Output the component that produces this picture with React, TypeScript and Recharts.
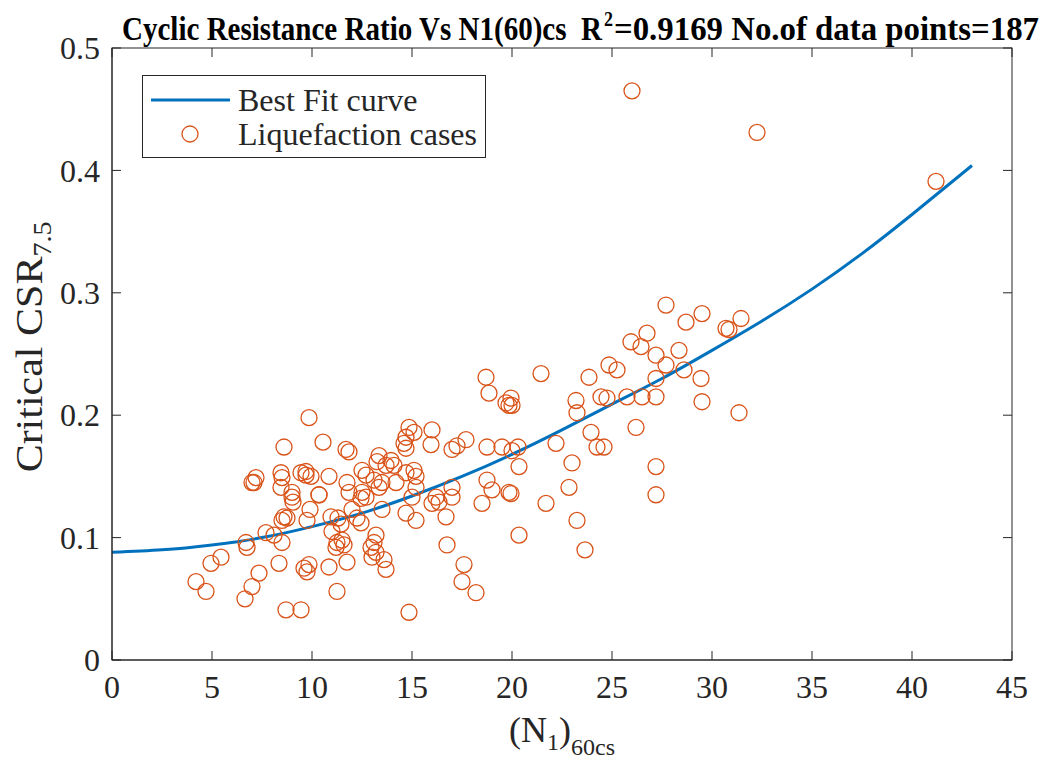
import React from "react";
import { ComposedChart, Line, Scatter, XAxis, YAxis, Legend } from "recharts";

const W = 1047;
const H = 762;
const M = { top: 48, right: 35, bottom: 0, left: 0 };
const X_AXIS_H = 102;
const Y_AXIS_W = 112;
const PLOT_W = W - M.right - Y_AXIS_W;
const PLOT_H = H - M.top - X_AXIS_H;
const INK = "#262626";
const BLUE = "#0072BD";
const ORANGE = "#D95319";
const FONT = "'Liberation Serif', 'Times New Roman', serif";

const xTicks = [0, 5, 10, 15, 20, 25, 30, 35, 40, 45];
const yTicks = [0, 0.1, 0.2, 0.3, 0.4, 0.5];

// best fit curve
const fitN = [0, 2.5, 5, 7.5, 10, 12.5, 15, 17.5, 20, 22.5, 25, 27.5, 30, 32.5, 35, 37.5, 40, 43];
const fitCSR = [0.088, 0.09, 0.094, 0.1, 0.109, 0.12, 0.134, 0.15, 0.168, 0.188, 0.209, 0.23, 0.253, 0.277, 0.303, 0.332, 0.364, 0.404];

// liquefaction cases
const caseN = [
  4.2, 4.7, 4.95, 5.45, 6.65, 7.0, 7.35, 6.7, 6.75, 7.7, 8.1, 8.35, 8.5, 8.7, 9.45, 9.6, 9.75, 9.85,
  7.2, 7.0, 8.45, 8.5, 8.45, 9.45, 9.7, 9.0, 9.05, 8.6, 8.75, 8.5, 9.9, 8.6, 9.85, 10.55, 11.7, 11.85,
  10.35, 9.75, 10.95, 11.3, 11.45, 11.0, 11.5, 11.6, 11.25, 11.2, 10.85, 11.25, 11.75, 11.75, 9.7, 9.95,
  10.85, 11.85, 12.5, 12.7, 12.45, 12.5, 12.7, 13.1, 13.5, 13.35, 14.2, 13.35, 13.25, 13.95, 14.1, 13.7,
  14.85, 15.1, 14.7, 14.6, 14.7, 16.0, 15.95, 17.0, 17.25, 17.7, 15.1, 15.2, 14.7, 12.0, 12.25, 12.45,
  13.5, 14.7, 15.2, 16.7, 15.2, 15.0, 16.2, 16.35, 16.0, 17.0, 17.0, 13.2, 13.1, 12.95, 13.2, 13.0,
  13.6, 13.7, 16.75, 14.85, 17.5, 17.6, 18.2, 19.85, 19.7, 20.35, 18.75, 19.0, 18.5, 19.85, 19.95, 20.35,
  18.75, 19.5, 20.3, 20.0, 27.7, 28.7, 29.5, 30.7, 25.95, 26.45, 26.75, 27.2, 27.7, 28.35, 28.6, 24.85,
  25.25, 23.85, 27.2, 29.45, 21.45, 18.7, 18.85, 19.95, 20.0, 23.2, 23.25, 24.45, 24.75, 25.75, 26.5, 27.2,
  29.5, 26.2, 23.95, 24.25, 24.6, 22.2, 23.0, 27.2, 22.85, 21.7, 27.2, 23.25, 23.65, 32.25, 41.2, 31.45,
  30.85, 31.35, 26.0, 10.35, 9.0, 7.1,
];
const caseCSR = [
  0.064, 0.056, 0.079, 0.084, 0.05, 0.06, 0.071, 0.096, 0.092, 0.104, 0.102, 0.079, 0.096, 0.041, 0.041, 0.075, 0.072, 0.078,
  0.149, 0.145, 0.153, 0.149, 0.141, 0.153, 0.151, 0.133, 0.129, 0.117, 0.116, 0.114, 0.123, 0.174, 0.198, 0.178, 0.172, 0.17,
  0.135, 0.114, 0.117, 0.116, 0.111, 0.105, 0.098, 0.094, 0.096, 0.092, 0.076, 0.056, 0.08, 0.145, 0.154, 0.15,
  0.15, 0.137, 0.137, 0.133, 0.132, 0.155, 0.151, 0.147, 0.145, 0.141, 0.145, 0.167, 0.162, 0.163, 0.159, 0.159,
  0.19, 0.186, 0.182, 0.177, 0.173, 0.188, 0.176, 0.172, 0.175, 0.18, 0.155, 0.15, 0.153, 0.123, 0.116, 0.112,
  0.123, 0.12, 0.114, 0.117, 0.141, 0.133, 0.133, 0.129, 0.128, 0.141, 0.133, 0.102, 0.096, 0.092, 0.088, 0.084,
  0.082, 0.074, 0.094, 0.039, 0.064, 0.078, 0.055, 0.208, 0.21, 0.158, 0.147, 0.139, 0.128, 0.137, 0.136, 0.102,
  0.174, 0.174, 0.174, 0.171, 0.29, 0.276, 0.283, 0.271, 0.26, 0.256, 0.267, 0.249, 0.241, 0.253, 0.237, 0.241,
  0.237, 0.231, 0.23, 0.23, 0.234, 0.231, 0.218, 0.214, 0.208, 0.212, 0.202, 0.215, 0.214, 0.215, 0.215, 0.215,
  0.211, 0.19, 0.186, 0.174, 0.174, 0.177, 0.161, 0.158, 0.141, 0.128, 0.135, 0.114, 0.09, 0.431, 0.391, 0.279,
  0.27, 0.202, 0.465, 0.135, 0.137, 0.145,
];

const fitData = fitN.map((x, i) => ({ x, y: fitCSR[i] }));
const caseData = caseN.map((x, i) => ({ x, y: caseCSR[i] }));

const TICK = 9;
const txt = { fontFamily: FONT, fill: INK } as const;

// ticks point inward, MATLAB style, mirrored on top / right edges of the box
const BottomTick = (p: any) => (
  <g>
    <line x1={p.x} y1={p.y} x2={p.x} y2={p.y - TICK} stroke={INK} />
    <line x1={p.x} y1={p.y - PLOT_H} x2={p.x} y2={p.y - PLOT_H + TICK} stroke={INK} />
    <text x={p.x} y={p.y + 38} textAnchor="middle" fontSize={32} {...txt}>
      {p.payload.value}
    </text>
  </g>
);
const LeftTick = (p: any) => (
  <g>
    <line x1={p.x} y1={p.y} x2={p.x + TICK} y2={p.y} stroke={INK} />
    <line x1={p.x + PLOT_W} y1={p.y} x2={p.x + PLOT_W - TICK} y2={p.y} stroke={INK} />
    <text x={p.x - 12} y={p.y} dy="0.35em" textAnchor="end" fontSize={32} {...txt}>
      {p.payload.value}
    </text>
  </g>
);

const Ring = (p: any) => (
  <circle cx={p.cx} cy={p.cy} r={8} fill="none" stroke={ORANGE} strokeWidth={1.3} />
);

const XLabel = () => (
  <text x={562} y={742} textAnchor="middle" fontSize={36} {...txt}>
    (N<tspan dy={8} fontSize={24}>1</tspan>
    <tspan dy={-8}>)</tspan>
    <tspan dy={13} fontSize={24}>60cs</tspan>
  </text>
);

const titleStyle = { fontFamily: FONT, fill: "#000", fontWeight: "bold" as const, lengthAdjust: "spacingAndGlyphs" };

// y label + box frame + title, hung off the y axis label slot
const YLabelAndFrame = (props: any) => {
  const vb = props.viewBox || { x: 0, y: M.top, width: Y_AXIS_W, height: PLOT_H };
  const left = vb.x + vb.width;
  return (
    <g>
      <rect x={left} y={vb.y} width={PLOT_W} height={vb.height} fill="none" stroke={INK} strokeWidth={1} />
      <text
        transform="translate(42,347) rotate(-90) scale(1,0.9)"
        textAnchor="middle"
        fontSize={42}
        {...txt}
      >
        Critical CSR<tspan dy={10} fontSize={28}>7.5</tspan>
      </text>
      <text transform="translate(122,40) scale(1,1.17)" fontSize={29} textLength={480} {...titleStyle}>
        {"Cyclic Resistance Ratio Vs N1(60)cs\u00a0\u00a0R"}
      </text>
      <text transform="translate(604,26) scale(1,1.1)" fontSize={19} textLength={9} {...titleStyle}>
        2
      </text>
      <text transform="translate(614,40) scale(1,1.06)" fontSize={32} textLength={425} {...titleStyle}>
        =0.9169 No.of data points=187
      </text>
    </g>
  );
};

const LegendBox = () => (
  <svg width={345} height={84} style={{ display: "block" }}>
    <rect x={0.5} y={0.5} width={343} height={82} fill="#fff" stroke={INK} strokeWidth={1} />
    <line x1={9} y1={25} x2={88} y2={25} stroke={BLUE} strokeWidth={3} />
    <circle cx={48} cy={59} r={8} fill="none" stroke={ORANGE} strokeWidth={1.3} />
    <text x={96} y={36} fontSize={32} {...txt}>Best Fit curve</text>
    <text x={96} y={70} fontSize={32} {...txt}>Liquefaction cases</text>
  </svg>
);

export default function App() {
  return (
    <div style={{ position: "absolute", left: 0, top: 0, width: W, height: H, background: "#fff" }}>
      <ComposedChart width={W} height={H} margin={M}>
        <XAxis
          dataKey="x"
          type="number"
          domain={[0, 45]}
          ticks={xTicks}
          height={X_AXIS_H}
          tickSize={0}
          tickMargin={0}
          tickLine={false}
          axisLine={{ stroke: INK }}
          tick={BottomTick}
          interval={0}
          label={{ content: XLabel }}
          allowDataOverflow
        />
        <YAxis
          dataKey="y"
          type="number"
          domain={[0, 0.5]}
          ticks={yTicks}
          width={Y_AXIS_W}
          tickSize={0}
          tickMargin={0}
          tickLine={false}
          axisLine={{ stroke: INK }}
          tick={LeftTick}
          interval={0}
          label={{ content: YLabelAndFrame }}
          allowDataOverflow
        />
        <Legend
          layout="horizontal"
          verticalAlign="middle"
          align="center"
          content={LegendBox}
          wrapperStyle={{ position: "absolute", left: 142, top: 75, width: 345, height: 84 }}
        />
        <Scatter data={caseData} dataKey="y" shape={Ring} isAnimationActive={false} />
        <Line
          data={fitData}
          dataKey="y"
          type="natural"
          stroke={BLUE}
          strokeWidth={3}
          dot={false}
          activeDot={false}
          isAnimationActive={false}
        />
      </ComposedChart>
    </div>
  );
}
